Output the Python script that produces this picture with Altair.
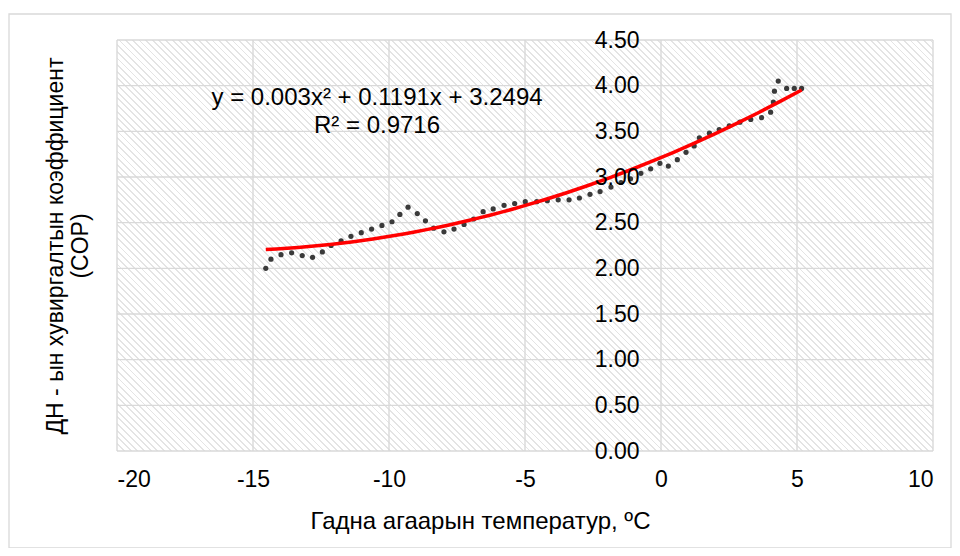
import altair as alt
import pandas as pd
import numpy as np

# ---- data ----
temp = [-14.53, -14.34, -13.97, -13.58, -13.19, -12.81, -12.45, -12.13, -11.76, -11.40,
        -11.02, -10.64, -10.26, -9.89, -9.60, -9.30, -8.96, -8.66, -8.36, -7.98,
        -7.61, -7.24, -6.89, -6.54, -6.17, -5.77, -5.38, -4.99, -4.57, -4.18,
        -3.78, -3.38, -3.00, -2.61, -2.24, -1.84, -1.47, -1.12, -0.74, -0.38,
        -0.04, 0.27, 0.60, 0.92, 1.22, 1.41, 1.78, 2.14, 2.51, 2.90,
        3.30, 3.70, 4.03, 4.13, 4.17, 4.31, 4.62, 4.90, 5.17]
cop = [2.00, 2.10, 2.15, 2.17, 2.14, 2.12, 2.18, 2.25, 2.30, 2.35,
       2.39, 2.43, 2.47, 2.51, 2.59, 2.67, 2.60, 2.52, 2.44, 2.40,
       2.43, 2.48, 2.54, 2.62, 2.65, 2.69, 2.71, 2.73, 2.73, 2.74,
       2.75, 2.75, 2.77, 2.81, 2.84, 2.89, 2.94, 2.98, 3.04, 3.09,
       3.15, 3.12, 3.19, 3.27, 3.34, 3.43, 3.48, 3.52, 3.56, 3.60,
       3.63, 3.65, 3.71, 3.82, 3.94, 4.05, 3.97, 3.97, 3.97]

x_ticks = [-20, -15, -10, -5, 0, 5, 10]
y_ticks = [0.0, 0.5, 1.0, 1.5, 2.0, 2.5, 3.0, 3.5, 4.0, 4.5]

eq_lines = ["y = 0.003x² + 0.1191x + 3.2494", "R² = 0.9716"]
eq_x = [-10.44, -10.44]
eq_y = [3.87, 3.56]

x_title = "Гадна агаарын температур, ºC"
y_title = ["ДН - ын хувиргалтын коэффициент", "(COP)"]

# ---- layout / style ----
W, H = 816, 411
FONT = "Liberation Sans"
FS_TICK = 23
FS_TEXT = 24
GRID = "#d9d9d9"

df = pd.DataFrame({"t": temp, "cop": cop})
xs = alt.Scale(domain=[-20, 10], nice=False, zero=False)
ys = alt.Scale(domain=[0, 4.5], nice=False, zero=False)

x_zero_px = W * (0 - (-20)) / 30.0

xaxis = alt.Axis(values=x_ticks, grid=False, ticks=False, domain=False,
                 labelExpr="'' + datum.value",
                 labelFont=FONT, labelFontSize=FS_TICK, labelColor="#000000", labelPadding=17,
                 title=x_title, titleFont=FONT, titleFontSize=FS_TEXT, titleFontWeight="normal",
                 titleColor="#000000", titleX=363, titleY=70, titleBaseline="middle",
                 zindex=1)
yaxis = alt.Axis(values=y_ticks, format=".2f", grid=False, ticks=False, domain=False,
                 offset=-x_zero_px,
                 labelFont=FONT, labelFontSize=FS_TICK, labelColor="#000000", labelPadding=22,
                 title=y_title, titleFont=FONT, titleFontSize=FS_TICK, titleFontWeight="normal",
                 titleColor="#000000", titleX=-(x_zero_px + 62), titleBaseline="middle",
                 titleAngle=270, zindex=1)

def X(field):
    return alt.X(field, type="quantitative", scale=xs, axis=xaxis)

def Y(field):
    return alt.Y(field, type="quantitative", scale=ys, axis=yaxis)

# hatch pattern via hard-stop linear gradient (stripes at 45 deg)
diag = (W + H) / np.sqrt(2)
period, line_w = 4.7, 1.3
STRIPE = "#e4e4e4"
stops = []
i = 0
while i * period < diag:
    a = i * period / diag
    b = min((i * period + line_w) / diag, 1.0)
    c = min((i + 1) * period / diag, 1.0)
    stops += [{"offset": a, "color": STRIPE}, {"offset": b, "color": STRIPE},
              {"offset": b, "color": "#ffffff"}, {"offset": c, "color": "#ffffff"}]
    i += 1
k = (1 / H + 1 / W) / (1 / H ** 2 + 1 / W ** 2)
hatch_grad = {"gradient": "linear", "x1": 0, "y1": 1, "x2": k / H, "y2": 1 - k / W,
              "stops": stops}

one = pd.DataFrame({"a": [0]})
hatch = alt.Chart(one).mark_rect(fill=hatch_grad).encode(
    x=alt.value(0), x2=alt.value(W), y=alt.value(0), y2=alt.value(H))

border = alt.Chart(one).mark_rect(filled=False, stroke=GRID, strokeWidth=1.3).encode(
    x=alt.value(-108), x2=alt.value(834), y=alt.value(-26), y2=alt.value(508))

vgrid = alt.Chart(pd.DataFrame({"gx": x_ticks})).mark_rule(color=GRID, strokeWidth=1.4).encode(
    x=X("gx"))
hgrid = alt.Chart(pd.DataFrame({"gy": y_ticks})).mark_rule(color=GRID, strokeWidth=1.4).encode(
    y=Y("gy"))

dots = alt.Chart(df).mark_circle(size=27, color="#3a3a3a", opacity=1).encode(
    x=X("t"), y=Y("cop"))

trend = alt.Chart(df).transform_regression("t", "cop", method="poly", order=2).mark_line(
    color="#ff0000", strokeWidth=3.5).encode(x=X("t"), y=Y("cop"))

eq = alt.Chart(pd.DataFrame({"txt": eq_lines, "ex": eq_x, "ey": eq_y})).mark_text(
    font=FONT, fontSize=FS_TEXT, color="#000000", align="center", baseline="middle").encode(
    x=X("ex"), y=Y("ey"), text="txt:N")

chart = alt.layer(hatch, border, vgrid, hgrid, dots, trend, eq).properties(
    width=W, height=H,
    padding={"left": 109, "top": 32, "right": 19, "bottom": 97},
    autosize=alt.AutoSizeParams(type="none"),
    background="#ffffff",
).configure_view(stroke="transparent")

chart.save("out.html", embed_options={"renderer": "svg", "actions": False})
